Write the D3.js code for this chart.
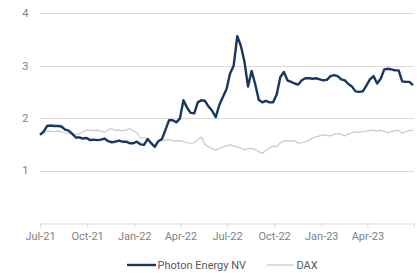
<!DOCTYPE html>
<html>
<head>
<meta charset="utf-8">
<script src="https://cdn.jsdelivr.net/npm/d3@7/dist/d3.min.js"></script>
<style>
  html, body { margin: 0; padding: 0; background: #ffffff; }
  svg { display: block; font-family: Roboto, "Noto Sans", sans-serif; }
</style>
</head>
<body>
<svg id="chart" width="417" height="273"></svg>
<script>
// ---- data (weekly closes) ----
const startDate = "2021-07-01";
const photon = [
  1.68, 1.74, 1.85, 1.86, 1.85, 1.85, 1.84, 1.78, 1.76, 1.70,
  1.63, 1.63, 1.61, 1.62, 1.58, 1.59, 1.58, 1.59, 1.61, 1.56,
  1.54, 1.55, 1.57, 1.55, 1.55, 1.52, 1.52, 1.55, 1.50, 1.49,
  1.60, 1.52, 1.45, 1.56, 1.60, 1.78, 1.96, 1.96, 1.92, 1.99,
  2.34, 2.20, 2.10, 2.09, 2.30, 2.34, 2.33, 2.22, 2.14, 2.02,
  2.25, 2.40, 2.55, 2.85, 3.00, 3.56, 3.38, 3.08, 2.60, 2.90,
  2.65, 2.35, 2.30, 2.33, 2.30, 2.30, 2.45, 2.78, 2.88, 2.72,
  2.69, 2.66, 2.64, 2.72, 2.76, 2.76, 2.75, 2.76, 2.74, 2.72,
  2.73, 2.80, 2.82, 2.80, 2.74, 2.72, 2.65, 2.60, 2.51, 2.50,
  2.51, 2.62, 2.74, 2.80, 2.66, 2.75, 2.93, 2.94, 2.93, 2.91,
  2.91, 2.70, 2.69, 2.69, 2.63
];
const dax = [
  1.70, 1.72, 1.75, 1.75, 1.74, 1.75, 1.74, 1.72, 1.71, 1.70,
  1.68, 1.70, 1.74, 1.77, 1.77, 1.76, 1.77, 1.75, 1.73, 1.78,
  1.80, 1.76, 1.77, 1.76, 1.77, 1.80, 1.76, 1.72, 1.62, 1.63,
  1.60, 1.55, 1.48, 1.56, 1.57, 1.58, 1.59, 1.57, 1.56, 1.57,
  1.55, 1.53, 1.52, 1.53, 1.59, 1.64, 1.50, 1.45, 1.42, 1.39,
  1.42, 1.45, 1.47, 1.49, 1.47, 1.45, 1.43, 1.39, 1.42, 1.42,
  1.40, 1.36, 1.33, 1.38, 1.43, 1.47, 1.45, 1.53, 1.56, 1.57,
  1.56, 1.57, 1.52, 1.53, 1.55, 1.58, 1.62, 1.64, 1.66, 1.68,
  1.67, 1.66, 1.69, 1.71, 1.69, 1.66, 1.70, 1.72, 1.74, 1.73,
  1.74, 1.75, 1.76, 1.77, 1.75, 1.77, 1.75, 1.72, 1.74, 1.76,
  1.77, 1.71, 1.74, 1.76, 1.77
];
const yTicks = [1, 2, 3, 4];
const seriesNames = ["Photon Energy NV", "DAX"];
const seriesColors = ["#17375e", "#c8c8c8"];

// ---- layout ----
const svg = d3.select("#chart");
const parse = d3.timeParse("%Y-%m-%d");
const t0 = parse(startDate);
const dates = photon.map((_, i) => d3.timeDay.offset(t0, i * 7));

const x = d3.scaleTime()
  .domain([parse("2021-07-01"), parse("2023-07-01")])
  .range([40, 414]);
const y = d3.scaleLinear().domain([0, 4]).range([223, 13.2]);

// gridlines
svg.append("g")
  .selectAll("line")
  .data(yTicks)
  .join("line")
  .attr("x1", 40).attr("x2", 414)
  .attr("y1", d => Math.round(y(d)) + 0.5)
  .attr("y2", d => Math.round(y(d)) + 0.5)
  .attr("stroke", "#d9d9d9").attr("stroke-width", 1);

// y labels
svg.append("g")
  .selectAll("text")
  .data(yTicks)
  .join("text")
  .attr("x", 28.5)
  .attr("y", d => y(d))
  .attr("dy", "0.35em")
  .attr("text-anchor", "end")
  .attr("fill", "#7f7f7f")
  .attr("font-size", 11)
  .text(d => d);

// x axis
const fmt = d3.timeFormat("%b-%y");
const xTicks = d3.timeMonth.every(3).range(parse("2021-07-01"), parse("2023-07-02"));
const xAxis = d3.axisBottom(x)
  .tickValues(xTicks)
  .tickSize(4)
  .tickSizeOuter(0)
  .tickPadding(5)
  .tickFormat((d, i) => i === xTicks.length - 1 ? "" : fmt(d));
const gx = svg.append("g")
  .attr("transform", `translate(0,${Math.round(y(0)) + 0.5})`)
  .call(xAxis);
gx.select(".domain").attr("stroke", "#d9d9d9");
gx.selectAll(".tick line").attr("stroke", "#d9d9d9");
gx.selectAll(".tick text")
  .attr("fill", "#7f7f7f")
  .attr("font-size", 11)
  .attr("font-family", "Roboto, 'Noto Sans', sans-serif");

// lines
const line = d3.line()
  .x((d, i) => x(dates[i]))
  .y(d => y(d));

svg.append("path")
  .datum(dax)
  .attr("fill", "none")
  .attr("stroke", seriesColors[1])
  .attr("stroke-width", 1.2)
  .attr("stroke-linejoin", "round")
  .attr("d", line);

svg.append("path")
  .datum(photon)
  .attr("fill", "none")
  .attr("stroke", seriesColors[0])
  .attr("stroke-width", 2.4)
  .attr("stroke-linejoin", "round")
  .attr("d", line);

// legend
const legend = svg.append("g");
const legItems = [
  { x1: 127, x2: 156, tx: 157.5, w: 2.4 },
  { x1: 267, x2: 294, tx: 296.5, w: 1.2 }
];
legItems.forEach((it, i) => {
  legend.append("line")
    .attr("x1", it.x1).attr("x2", it.x2)
    .attr("y1", 265).attr("y2", 265)
    .attr("stroke", seriesColors[i]).attr("stroke-width", it.w);
  legend.append("text")
    .attr("x", it.tx).attr("y", 265)
    .attr("dy", "0.35em")
    .attr("fill", "#595959")
    .attr("font-size", 11)
    .text(seriesNames[i]);
});
</script>
</body>
</html>
